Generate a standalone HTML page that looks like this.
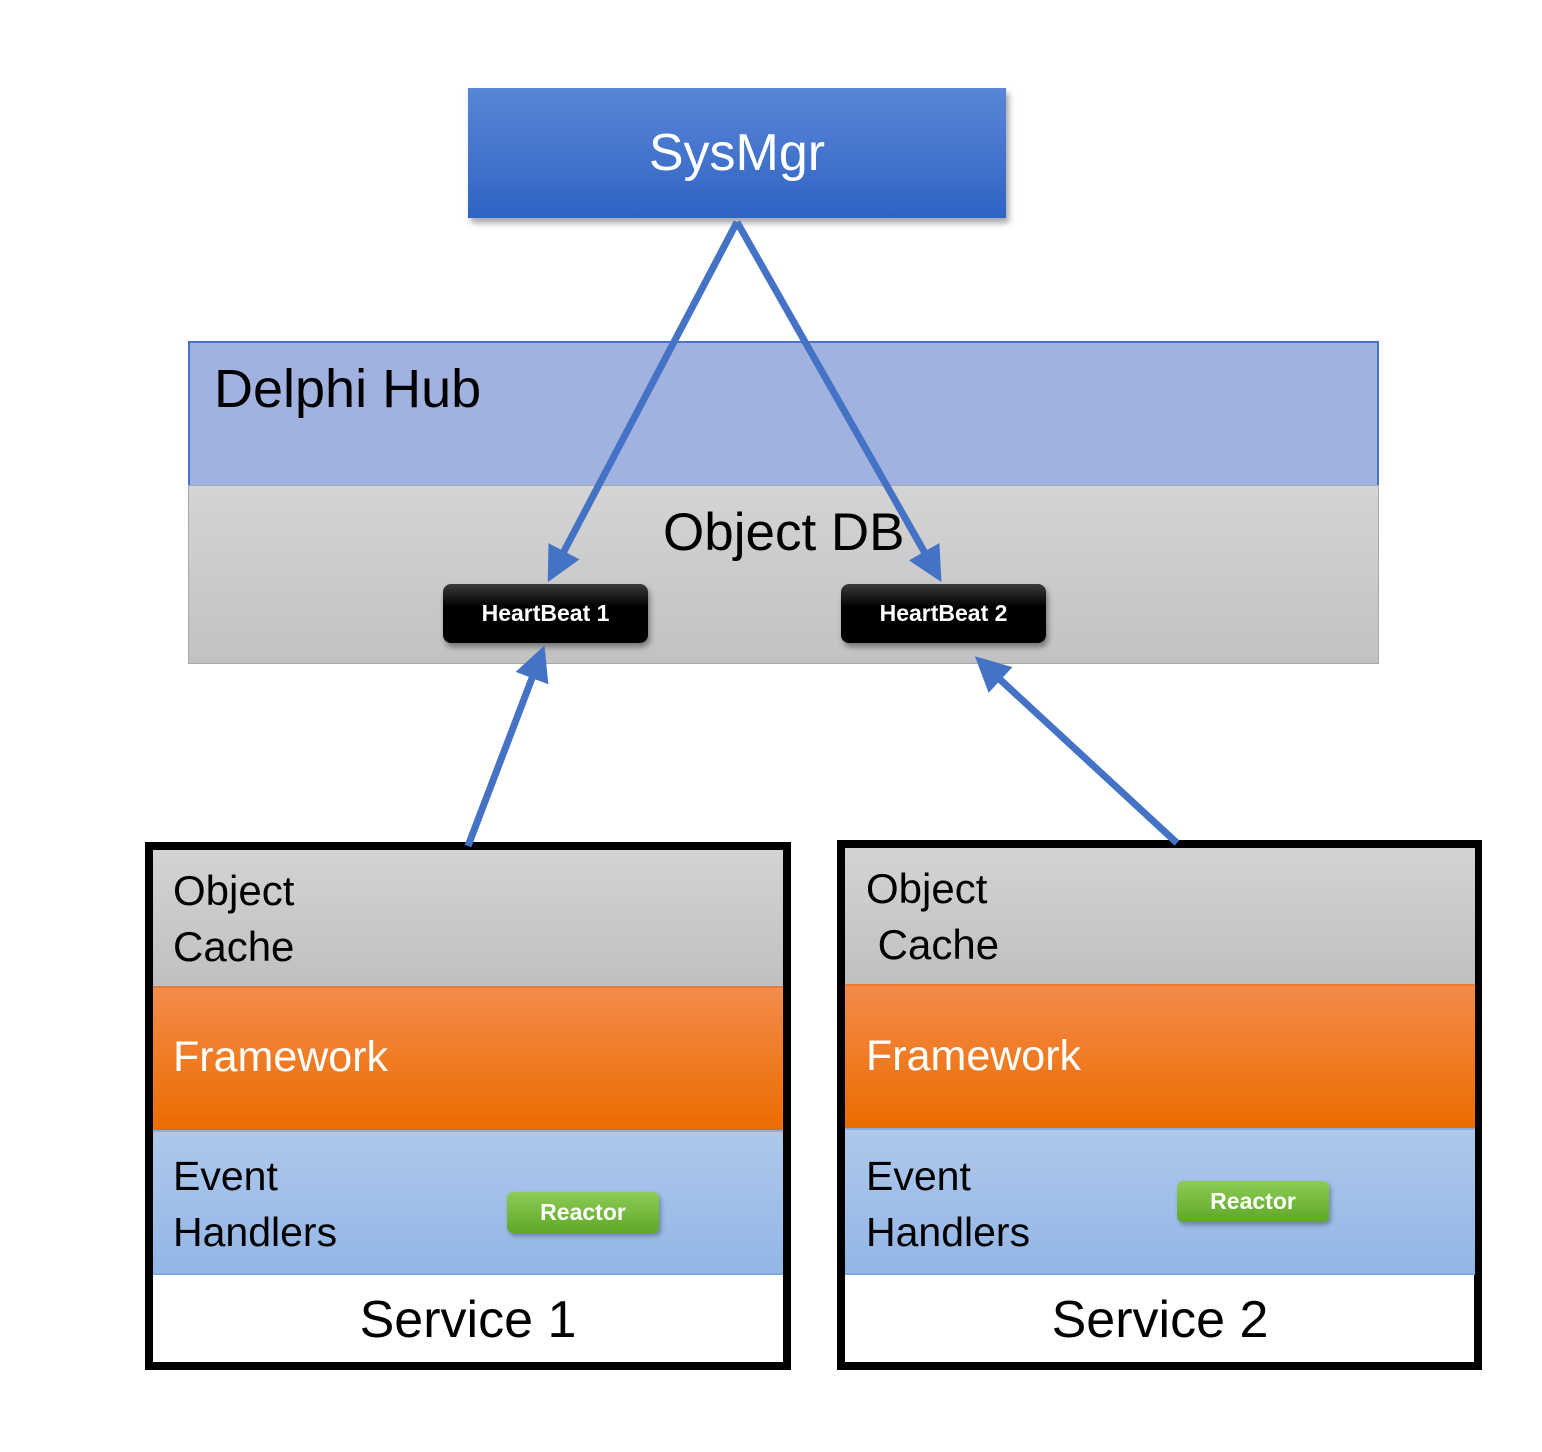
<!DOCTYPE html>
<html><head><style>
body{margin:0;width:1542px;height:1452px;background:#fff;position:relative;font-family:"Liberation Sans",sans-serif;overflow:hidden}
div{position:absolute;box-sizing:border-box}
.t{white-space:nowrap}
</style></head><body>
<div style="left:468px;top:88px;width:538px;height:130px;background:linear-gradient(#5a86d6,#2f63c4);box-shadow:3px 5px 6px rgba(0,0,0,0.35);color:#fff;font-size:52px;text-align:center;line-height:130px">SysMgr</div>
<div style="left:188px;top:341px;width:1191px;height:144px;background:#a2b2e0;border:2px solid #4a72c9;border-bottom:none"></div>
<div class="t" style="left:214px;top:358px;font-size:54px;color:#000">Delphi Hub</div>
<div style="left:188px;top:485px;width:1191px;height:179px;background:linear-gradient(#d4d4d4,#c2c2c2);border:1px solid #a8a8a8"></div>
<div class="t" style="left:663px;top:502px;font-size:53px;color:#000">Object DB</div>
<div style="left:443px;top:584px;width:205px;height:59px;background:linear-gradient(#3a3a3a,#000 40%);border-radius:8px;color:#fff;font-weight:bold;font-size:23px;text-align:center;line-height:59px;box-shadow:2px 4px 6px rgba(0,0,0,0.4)">HeartBeat 1</div>
<div style="left:841px;top:584px;width:205px;height:59px;background:linear-gradient(#3a3a3a,#000 40%);border-radius:8px;color:#fff;font-weight:bold;font-size:23px;text-align:center;line-height:59px;box-shadow:2px 4px 6px rgba(0,0,0,0.4)">HeartBeat 2</div>

<!-- Service 1 -->
<div style="left:145px;top:842px;width:646px;height:528px;border:8px solid #000;background:#fff"></div>
<div style="left:153px;top:850px;width:630px;height:136px;background:linear-gradient(#d3d3d3,#c0c0c0)"></div>
<div style="left:153px;top:986px;width:630px;height:144px;background:linear-gradient(#f38b4a,#ec6c00);border-top:2px solid #ea7a30"></div>
<div style="left:153px;top:1130px;width:630px;height:145px;background:linear-gradient(#aec8eb,#93b6e6);border-top:2px solid #8aaee0;border-bottom:2px solid #7ea6df"></div>
<div class="t" style="left:173px;top:863px;font-size:42px;line-height:56px">Object<br>Cache</div>
<div class="t" style="left:173px;top:1033px;font-size:43px;color:#fff">Framework</div>
<div class="t" style="left:173px;top:1148px;font-size:41px;line-height:56px">Event<br>Handlers</div>
<div style="left:507px;top:1192px;width:152px;height:41px;background:linear-gradient(#8dcc55,#5ea828);border-radius:6px;color:#fff;font-weight:bold;font-size:23px;text-align:center;line-height:41px;box-shadow:2px 3px 5px rgba(0,0,0,0.3)">Reactor</div>
<div class="t" style="left:153px;top:1290px;width:630px;text-align:center;font-size:52px">Service 1</div>

<!-- Service 2 -->
<div style="left:837px;top:840px;width:645px;height:530px;border:8px solid #000;background:#fff"></div>
<div style="left:845px;top:848px;width:630px;height:136px;background:linear-gradient(#d3d3d3,#c0c0c0)"></div>
<div style="left:845px;top:984px;width:630px;height:144px;background:linear-gradient(#f38b4a,#ec6c00);border-top:2px solid #ea7a30"></div>
<div style="left:845px;top:1128px;width:630px;height:147px;background:linear-gradient(#aec8eb,#93b6e6);border-top:2px solid #8aaee0;border-bottom:2px solid #7ea6df"></div>
<div class="t" style="left:866px;top:861px;font-size:42px;line-height:56px">Object<br>&nbsp;Cache</div>
<div class="t" style="left:866px;top:1032px;font-size:43px;color:#fff">Framework</div>
<div class="t" style="left:866px;top:1148px;font-size:41px;line-height:56px">Event<br>Handlers</div>
<div style="left:1177px;top:1181px;width:152px;height:41px;background:linear-gradient(#8dcc55,#5ea828);border-radius:6px;color:#fff;font-weight:bold;font-size:23px;text-align:center;line-height:41px;box-shadow:2px 3px 5px rgba(0,0,0,0.3)">Reactor</div>
<div class="t" style="left:845px;top:1290px;width:630px;text-align:center;font-size:52px">Service 2</div>

<svg style="position:absolute;left:0;top:0" width="1542" height="1452">
<defs><marker id="a" markerWidth="5" markerHeight="5" refX="4" refY="2.5" orient="auto" markerUnits="strokeWidth"><path d="M0,0L5,2.5L0,5z" fill="#4472c4"/></marker></defs>
<g stroke="#4472c4" stroke-width="7" fill="none">
<line x1="737" y1="222" x2="551" y2="576" marker-end="url(#a)"/>
<line x1="737" y1="222" x2="938" y2="576" marker-end="url(#a)"/>
<line x1="468" y1="846" x2="542" y2="652" marker-end="url(#a)"/>
<line x1="1177" y1="843" x2="980" y2="661" marker-end="url(#a)"/>
</g>
</svg>
</body></html>
